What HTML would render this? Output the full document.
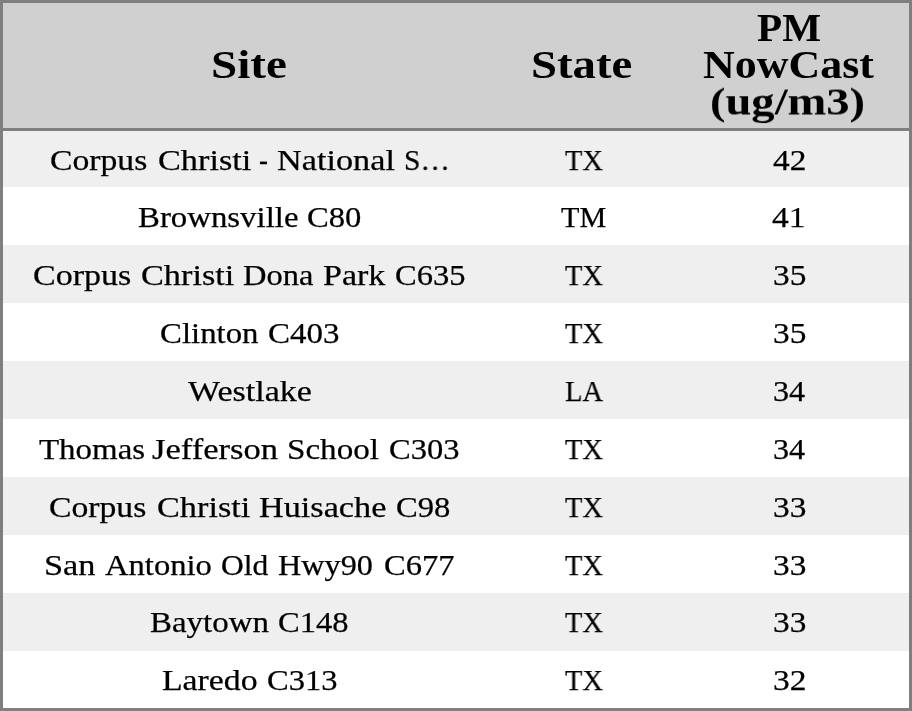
<!DOCTYPE html>
<html><head><meta charset="utf-8"><style>
html,body{margin:0;padding:0;}
body{width:912px;height:711px;position:relative;overflow:hidden;background:#7f7f7f;font-family:"Liberation Serif", serif;color:#000;}
.bx{position:absolute;left:3px;width:906px;}
.w{position:absolute;white-space:nowrap;height:40px;line-height:40px;}
.w span{display:inline-block;transform-origin:0 50%;will-change:transform;}
.b{font-size:30px;-webkit-text-stroke:0.25px #000;}
.h{font-size:39px;font-weight:bold;}
</style></head><body>
<div class="bx" style="top:3px;height:125px;background:#d0d0d0"></div>
<div class="bx" style="top:131px;height:56px;background:#efefef"></div>
<div class="bx" style="top:187px;height:58px;background:#fff"></div>
<div class="bx" style="top:245px;height:58px;background:#efefef"></div>
<div class="bx" style="top:303px;height:58px;background:#fff"></div>
<div class="bx" style="top:361px;height:58px;background:#efefef"></div>
<div class="bx" style="top:419px;height:58px;background:#fff"></div>
<div class="bx" style="top:477px;height:58px;background:#efefef"></div>
<div class="bx" style="top:535px;height:58px;background:#fff"></div>
<div class="bx" style="top:593px;height:58px;background:#efefef"></div>
<div class="bx" style="top:651px;height:57px;background:#fff"></div>
<div class="w b" style="left:50.39px;top:139.90px"><span id="r0c0w0" style="transform:translateY(0.00px) scale(1.1221,1.0000)">Corpus</span></div>
<div class="w b" style="left:157.80px;top:139.90px"><span id="r0c0w1" style="transform:translateY(0.00px) scale(1.1421,1.0000)">Christi</span></div>
<div class="w b" style="left:259.47px;top:139.90px"><span id="r0c0w2" style="transform:translateY(0.00px) scale(0.8785,1.0000)">-</span></div>
<div class="w b" style="left:277.27px;top:139.90px"><span id="r0c0w3" style="transform:translateY(0.00px) scale(1.1418,1.0000)">National</span></div>
<div class="w b" style="left:403.96px;top:139.90px"><span id="r0c0w4" style="transform:translateY(0.00px) scale(0.9801,1.0000)">S…</span></div>
<div class="w b" style="left:565.23px;top:139.90px"><span id="r0c1w0" style="transform:translateY(0.00px) scale(0.9525,1.0000)">TX</span></div>
<div class="w b" style="left:773.24px;top:139.90px"><span id="r0c2w0" style="transform:translateY(0.00px) scale(1.1116,1.0000)">42</span></div>
<div class="w b" style="left:137.76px;top:197.10px"><span id="r1c0w0" style="transform:translateY(0.00px) scale(1.0940,1.0000)">Brownsville</span></div>
<div class="w b" style="left:307.45px;top:197.10px"><span id="r1c0w1" style="transform:translateY(0.00px) scale(1.0877,1.0000)">C80</span></div>
<div class="w b" style="left:561.21px;top:197.10px"><span id="r1c1w0" style="transform:translateY(0.00px) scale(1.0040,1.0000)">TM</span></div>
<div class="w b" style="left:772.12px;top:197.10px"><span id="r1c2w0" style="transform:translateY(0.00px) scale(1.1156,1.0000)">41</span></div>
<div class="w b" style="left:33.31px;top:255.00px"><span id="r2c0w0" style="transform:translateY(0.00px) scale(1.1339,1.0000)">Corpus</span></div>
<div class="w b" style="left:140.73px;top:255.00px"><span id="r2c0w1" style="transform:translateY(0.00px) scale(1.1421,1.0000)">Christi</span></div>
<div class="w b" style="left:243.20px;top:255.00px"><span id="r2c0w2" style="transform:translateY(0.00px) scale(1.0824,1.0000)">Dona</span></div>
<div class="w b" style="left:323.47px;top:255.00px"><span id="r2c0w3" style="transform:translateY(0.00px) scale(1.1341,1.0000)">Park</span></div>
<div class="w b" style="left:394.80px;top:255.00px"><span id="r2c0w4" style="transform:translateY(0.00px) scale(1.0837,1.0000)">C635</span></div>
<div class="w b" style="left:565.23px;top:255.00px"><span id="r2c1w0" style="transform:translateY(0.00px) scale(0.9525,1.0000)">TX</span></div>
<div class="w b" style="left:773.13px;top:255.00px"><span id="r2c2w0" style="transform:translateY(0.00px) scale(1.1116,1.0000)">35</span></div>
<div class="w b" style="left:159.85px;top:312.90px"><span id="r3c0w0" style="transform:translateY(0.00px) scale(1.0942,1.0000)">Clinton</span></div>
<div class="w b" style="left:268.28px;top:312.90px"><span id="r3c0w1" style="transform:translateY(0.00px) scale(1.0996,1.0000)">C403</span></div>
<div class="w b" style="left:565.23px;top:312.90px"><span id="r3c1w0" style="transform:translateY(0.00px) scale(0.9525,1.0000)">TX</span></div>
<div class="w b" style="left:773.13px;top:312.90px"><span id="r3c2w0" style="transform:translateY(0.00px) scale(1.1116,1.0000)">35</span></div>
<div class="w b" style="left:188.06px;top:370.80px"><span id="r4c0w0" style="transform:translateY(0.00px) scale(1.1341,1.0000)">Westlake</span></div>
<div class="w b" style="left:565.27px;top:370.80px"><span id="r4c1w0" style="transform:translateY(0.00px) scale(0.9525,1.0000)">LA</span></div>
<div class="w b" style="left:773.16px;top:370.80px"><span id="r4c2w0" style="transform:translateY(0.00px) scale(1.0732,1.0000)">34</span></div>
<div class="w b" style="left:39.47px;top:428.70px"><span id="r5c0w0" style="transform:translateY(0.00px) scale(1.0981,1.0000)">Thomas</span></div>
<div class="w b" style="left:151.77px;top:428.70px"><span id="r5c0w1" style="transform:translateY(0.00px) scale(1.1527,1.0000)">Jefferson</span></div>
<div class="w b" style="left:287.26px;top:428.70px"><span id="r5c0w2" style="transform:translateY(0.00px) scale(1.1032,1.0000)">School</span></div>
<div class="w b" style="left:388.78px;top:428.70px"><span id="r5c0w3" style="transform:translateY(0.00px) scale(1.0837,1.0000)">C303</span></div>
<div class="w b" style="left:565.23px;top:428.70px"><span id="r5c1w0" style="transform:translateY(0.00px) scale(0.9525,1.0000)">TX</span></div>
<div class="w b" style="left:773.16px;top:428.70px"><span id="r5c2w0" style="transform:translateY(0.00px) scale(1.0732,1.0000)">34</span></div>
<div class="w b" style="left:49.38px;top:486.60px"><span id="r6c0w0" style="transform:translateY(0.00px) scale(1.1221,1.0000)">Corpus</span></div>
<div class="w b" style="left:156.79px;top:486.60px"><span id="r6c0w1" style="transform:translateY(0.00px) scale(1.1420,1.0000)">Christi</span></div>
<div class="w b" style="left:259.20px;top:486.60px"><span id="r6c0w2" style="transform:translateY(0.00px) scale(1.1409,1.0000)">Huisache</span></div>
<div class="w b" style="left:395.80px;top:486.60px"><span id="r6c0w3" style="transform:translateY(0.00px) scale(1.0877,1.0000)">C98</span></div>
<div class="w b" style="left:565.23px;top:486.60px"><span id="r6c1w0" style="transform:translateY(0.00px) scale(0.9525,1.0000)">TX</span></div>
<div class="w b" style="left:773.13px;top:486.60px"><span id="r6c2w0" style="transform:translateY(0.00px) scale(1.1116,1.0000)">33</span></div>
<div class="w b" style="left:44.20px;top:544.50px"><span id="r7c0w0" style="transform:translateY(0.00px) scale(1.1441,1.0000)">San</span></div>
<div class="w b" style="left:104.72px;top:544.50px"><span id="r7c0w1" style="transform:translateY(0.00px) scale(1.0868,1.0000)">Antonio</span></div>
<div class="w b" style="left:221.14px;top:544.50px"><span id="r7c0w2" style="transform:translateY(0.00px) scale(1.0496,1.0000)">Old</span></div>
<div class="w b" style="left:278.34px;top:544.50px"><span id="r7c0w3" style="transform:translateY(0.00px) scale(1.0740,1.0000)">Hwy90</span></div>
<div class="w b" style="left:383.75px;top:544.50px"><span id="r7c0w4" style="transform:translateY(0.00px) scale(1.0837,1.0000)">C677</span></div>
<div class="w b" style="left:565.23px;top:544.50px"><span id="r7c1w0" style="transform:translateY(0.00px) scale(0.9525,1.0000)">TX</span></div>
<div class="w b" style="left:773.13px;top:544.50px"><span id="r7c2w0" style="transform:translateY(0.00px) scale(1.1116,1.0000)">33</span></div>
<div class="w b" style="left:149.81px;top:602.40px"><span id="r8c0w0" style="transform:translateY(0.00px) scale(1.0978,1.0000)">Baytown</span></div>
<div class="w b" style="left:278.34px;top:602.40px"><span id="r8c0w1" style="transform:translateY(0.00px) scale(1.0837,1.0000)">C148</span></div>
<div class="w b" style="left:565.23px;top:602.40px"><span id="r8c1w0" style="transform:translateY(0.00px) scale(0.9525,1.0000)">TX</span></div>
<div class="w b" style="left:773.13px;top:602.40px"><span id="r8c2w0" style="transform:translateY(0.00px) scale(1.1116,1.0000)">33</span></div>
<div class="w b" style="left:161.83px;top:660.30px"><span id="r9c0w0" style="transform:translateY(0.00px) scale(1.1250,1.0000)">Laredo</span></div>
<div class="w b" style="left:267.29px;top:660.30px"><span id="r9c0w1" style="transform:translateY(0.00px) scale(1.0837,1.0000)">C313</span></div>
<div class="w b" style="left:565.23px;top:660.30px"><span id="r9c1w0" style="transform:translateY(0.00px) scale(0.9525,1.0000)">TX</span></div>
<div class="w b" style="left:773.12px;top:660.30px"><span id="r9c2w0" style="transform:translateY(0.00px) scale(1.1156,1.0000)">32</span></div>
<div class="w h" style="left:210.92px;top:44.90px"><span id="h0" style="transform:translateY(0.00px) scale(1.2067,1.0000)">Site</span></div>
<div class="w h" style="left:531.16px;top:44.80px"><span id="h1" style="transform:translateY(0.00px) scale(1.1988,1.0000)">State</span></div>
<div class="w h" style="left:756.74px;top:8.70px"><span id="h2a" style="transform:translateY(-0.80px) scale(1.0552,1.0000)">PM</span></div>
<div class="w h" style="left:703.45px;top:45.40px"><span id="h2b" style="transform:translateY(0.00px) scale(1.1272,1.0000)">NowCast</span></div>
<div class="w h" style="left:710.39px;top:82.30px"><span id="h2c" style="transform:translateY(0.00px) scale(1.1929,0.9600)">(ug/m3)</span></div>
</body></html>
